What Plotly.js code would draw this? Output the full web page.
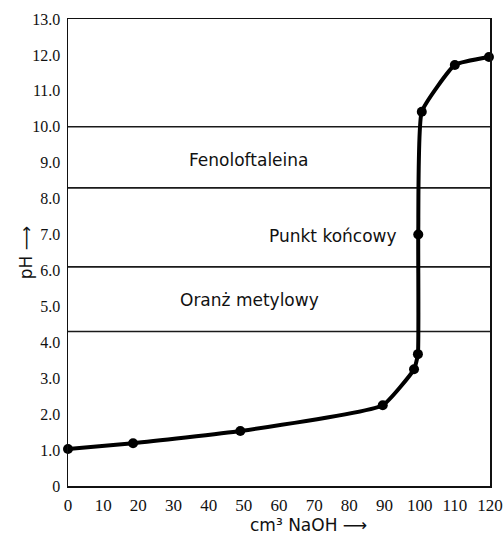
<!DOCTYPE html>
<html>
<head>
<meta charset="utf-8">
<script src="https://cdn.plot.ly/plotly-3.0.1.min.js"></script>
<style>html,body{margin:0;padding:0;background:#fff;}#chart{width:503px;height:536px;}</style>
</head>
<body>
<div id="chart"></div>
<script>
// Titration data (cm3 NaOH vs pH)
const volume = [0, 18.5, 49, 89.5, 98.4, 99.5, 99.6, 100.6, 110, 119.7];
const pH = [1.03, 1.19, 1.53, 2.25, 3.25, 3.67, 7.0, 10.42, 11.72, 11.94];

// Indicator range boundaries (pH)
const rangeLines = [10.0, 8.3, 6.1, 4.3];

// Region labels
const labelTexts = ["Fenoloftaleina", "Punkt końcowy", "Oranż metylowy"];
const labelX = [51.2, 75.3, 51.5];
const labelY = [9.08, 6.97, 5.17];

// Axis ticks
const xTicks = [0, 10, 20, 30, 40, 50, 60, 70, 80, 90, 100, 110, 120];
const yTicks = [0, 1, 2, 3, 4, 5, 6, 7, 8, 9, 10, 11, 12, 13];
const yTickText = ["0", "1.0", "2.0", "3.0", "4.0", "5.0", "6.0", "7.0", "8.0", "9.0", "10.0", "11.0", "12.0", "13.0"];

const sans = "DejaVu Sans, Verdana, sans-serif";
const serif = "Liberation Serif, Times New Roman, serif";

const traces = [
  {
    x: volume, y: pH, type: "scatter", mode: "lines+markers",
    line: {color: "#000", width: 4, shape: "spline", smoothing: 0.4},
    marker: {color: "#000", size: 10},
    hoverinfo: "skip", cliponaxis: false
  }
];

const shapes = rangeLines.map(v => ({
  type: "line", xref: "paper", x0: 0, x1: 1, yref: "y", y0: v, y1: v,
  line: {color: "#1a1a1a", width: 1.6}, layer: "below"
}));

const annotations = labelTexts.map((t, i) => ({
  text: t, x: labelX[i], y: labelY[i], xref: "x", yref: "y",
  showarrow: false, font: {family: sans, size: 17, color: "#111"}
}));
annotations.push({
  text: "cm³ NaOH ⟶", xref: "paper", yref: "paper",
  x: 0.569, y: -0.083, xanchor: "center", yanchor: "middle", showarrow: false,
  font: {family: sans, size: 17, color: "#111"}
});
annotations.push({
  text: "pH ⟶", xref: "paper", yref: "paper", textangle: -90,
  x: -0.1, y: 0.5, xanchor: "center", yanchor: "middle", showarrow: false,
  font: {family: sans, size: 17, color: "#111"}
});

const layout = {
  width: 503, height: 536,
  margin: {l: 68, r: 13, t: 19, b: 50},
  paper_bgcolor: "#fff", plot_bgcolor: "#fff",
  showlegend: false,
  xaxis: {
    range: [0, 120], tickvals: xTicks, ticks: "", showgrid: false, zeroline: false,
    showline: true, mirror: true, linecolor: "#111", linewidth: 1.5,
    tickfont: {family: serif, size: 17, color: "#111"}, ticklabelstandoff: 3
  },
  yaxis: {
    range: [0, 13], tickvals: yTicks, ticktext: yTickText, ticks: "", showgrid: false, zeroline: false,
    showline: true, mirror: true, linecolor: "#111", linewidth: 1.5,
    tickfont: {family: serif, size: 16, color: "#111"}, ticklabelstandoff: 3
  },
  shapes: shapes,
  annotations: annotations
};

Plotly.newPlot("chart", traces, layout, {displayModeBar: false, staticPlot: true});
</script>
</body>
</html>
